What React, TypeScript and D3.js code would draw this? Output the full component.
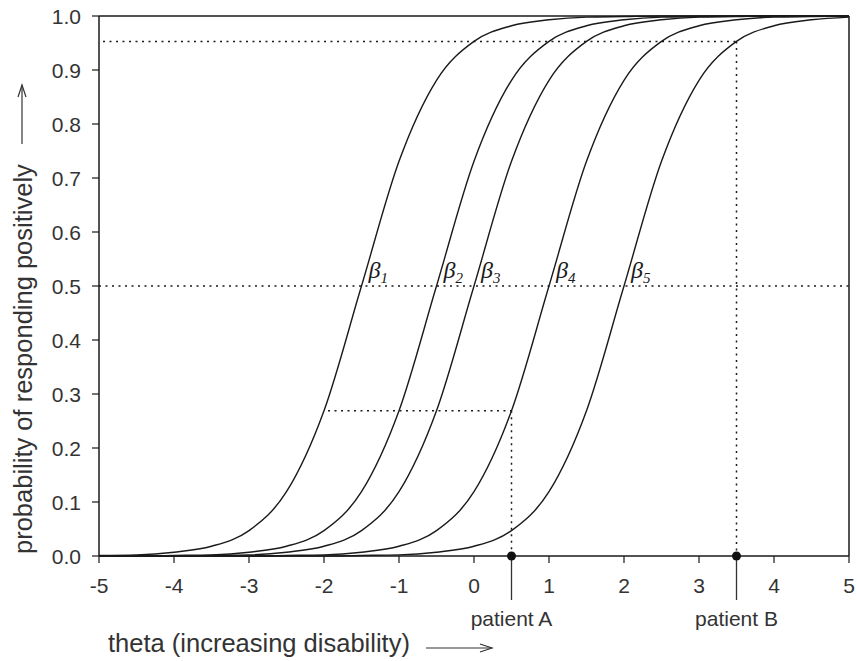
import * as d3 from "d3"

// theta grid and curve values
const theta = [-5, -4.5, -4, -3.5, -3, -2.5, -2, -1.5, -1, -0.5, 0, 0.5, 1, 1.5, 2, 2.5, 3, 3.5, 4, 4.5, 5]

const beta1 = [0.001, 0.002, 0.007, 0.018, 0.047, 0.119, 0.269, 0.5, 0.731, 0.881, 0.953, 0.982, 0.993, 0.998, 0.999, 1, 1, 1, 1, 1, 1]
const beta2 = [0, 0, 0.001, 0.002, 0.007, 0.018, 0.047, 0.119, 0.269, 0.5, 0.731, 0.881, 0.953, 0.982, 0.993, 0.998, 0.999, 1, 1, 1, 1]
const beta3 = [0, 0, 0, 0.001, 0.002, 0.007, 0.018, 0.047, 0.119, 0.269, 0.5, 0.731, 0.881, 0.953, 0.982, 0.993, 0.998, 0.999, 1, 1, 1]
const beta4 = [0, 0, 0, 0, 0, 0.001, 0.002, 0.007, 0.018, 0.047, 0.119, 0.269, 0.5, 0.731, 0.881, 0.953, 0.982, 0.993, 0.998, 0.999, 1]
const beta5 = [0, 0, 0, 0, 0, 0, 0, 0.001, 0.002, 0.007, 0.018, 0.047, 0.119, 0.269, 0.5, 0.731, 0.881, 0.953, 0.982, 0.993, 0.998]

const curves = [beta1, beta2, beta3, beta4, beta5]
const betaLocations = [-1.5, -0.5, 0, 1, 2]
const betaSubs = ["1", "2", "3", "4", "5"]

const xTicks = [-5, -4, -3, -2, -1, 0, 1, 2, 3, 4, 5]
const yTicks = [0, 0.1, 0.2, 0.3, 0.4, 0.5, 0.6, 0.7, 0.8, 0.9, 1.0]

const patientNames = ["patient A", "patient B"]
const patientTheta = [0.5, 3.5]
const patientProb = [0.269, 0.953]
const patientGuideStart = [-2, -5]

const margin = { top: 16, right: 8, bottom: 105, left: 99 }
const W = 857
const H = 661

export default function App() {
  const innerW = W - margin.left - margin.right
  const innerH = H - margin.top - margin.bottom
  const x = d3.scaleLinear().domain([-5, 5]).range([0, innerW])
  const y = d3.scaleLinear().domain([0, 1]).range([innerH, 0])

  const line = d3
    .line<number>()
    .x((_, i) => x(theta[i]))
    .y((d) => y(d))
    .curve(d3.curveMonotoneX)

  const ink = "#1a1a1a"
  const textCol = "#333"
  const dots = "2,4.5"
  const sans = "'Liberation Sans', Arial, sans-serif"

  return (
    <svg width={W} height={H} style={{ position: "absolute", left: 0, top: 0, background: "#fff" }}>
      <g transform={`translate(${margin.left},${margin.top})`}>
        {/* guide lines */}
        <line x1={x(-5)} x2={x(5)} y1={y(0.5)} y2={y(0.5)} stroke={ink} strokeWidth={1.5} strokeDasharray={dots} />
        {patientTheta.map((t, i) => (
          <g key={i}>
            <line x1={x(patientGuideStart[i]) + 4} x2={x(t)} y1={y(patientProb[i])} y2={y(patientProb[i])} stroke={ink} strokeWidth={1.5} strokeDasharray={dots} />
            <line x1={x(t)} x2={x(t)} y1={y(patientProb[i])} y2={y(0)} stroke={ink} strokeWidth={1.5} strokeDasharray={dots} />
          </g>
        ))}

        {/* curves */}
        {curves.map((c, i) => (
          <path key={i} d={line(c) || ""} fill="none" stroke={ink} strokeWidth={1.4} />
        ))}

        {/* frame */}
        <line x1={0} x2={innerW} y1={0} y2={0} stroke={ink} strokeWidth={1.5} />
        <line x1={innerW} x2={innerW} y1={0} y2={innerH} stroke={ink} strokeWidth={1.5} />
        <line x1={0} x2={0} y1={0} y2={innerH} stroke={ink} strokeWidth={1.5} />
        <line x1={0} x2={innerW} y1={innerH} y2={innerH} stroke={ink} strokeWidth={1.5} />

        {/* y axis */}
        {yTicks.map((t) => (
          <g key={t} transform={`translate(0,${y(t)})`}>
            <line x1={-7} x2={0} stroke={ink} strokeWidth={1.2} />
            <text x={-18} dy="0.36em" textAnchor="end" fontFamily={sans} fontSize={21} fill={textCol}>
              {t.toFixed(1)}
            </text>
          </g>
        ))}

        {/* x axis */}
        {xTicks.map((t) => (
          <g key={t} transform={`translate(${x(t)},${innerH})`}>
            <line y1={0} y2={7} stroke={ink} strokeWidth={1.2} />
            <text y={37} textAnchor="middle" fontFamily={sans} fontSize={21} fill={textCol}>
              {t}
            </text>
          </g>
        ))}

        {/* patients */}
        {patientTheta.map((t, i) => (
          <g key={i} transform={`translate(${x(t)},${innerH})`}>
            <line y1={0} y2={44} stroke={textCol} strokeWidth={1.3} />
            <circle r={4.5} fill="#111" />
            <text y={70} textAnchor="middle" fontFamily={sans} fontSize={21} fill={textCol}>
              {patientNames[i]}
            </text>
          </g>
        ))}

        {/* beta labels */}
        {betaLocations.map((b, i) => (
          <text key={i} x={x(b) + 7} y={y(0.5) - 8} fontFamily="'Liberation Serif', 'Times New Roman', serif" fontStyle="italic" fontSize={24} fill={ink}>
            β
            <tspan fontSize={15} dy={5}>
              {betaSubs[i]}
            </tspan>
          </text>
        ))}
      </g>

      {/* axis titles */}
      <text x={108} y={652} fontFamily={sans} fontSize={25.5} fill={textCol}>
        theta (increasing disability)
      </text>
      <line x1={426} x2={492} y1={648} y2={648} stroke={textCol} strokeWidth={1.2} />
      <path d="M480,644 L492,648 L480,652" fill="none" stroke={textCol} strokeWidth={1.2} />

      <text transform="translate(32,554) rotate(-90)" fontFamily={sans} fontSize={25.5} fill={textCol}>
        probability of responding positively
      </text>
      <line x1={22} x2={22} y1={144} y2={85} stroke={textCol} strokeWidth={1.2} />
      <path d="M18,97 L22,85 L26,97" fill="none" stroke={textCol} strokeWidth={1.2} />
    </svg>
  )
}
